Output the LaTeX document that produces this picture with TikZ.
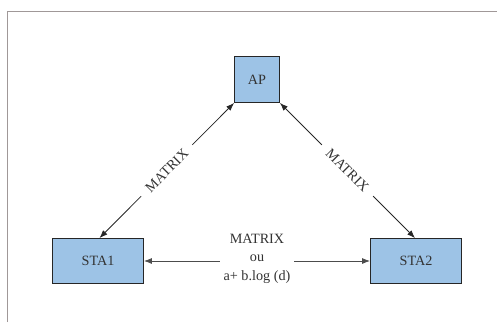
\documentclass[tikz,border=0pt]{standalone}
\usepackage{fontspec}
\setmainfont{Liberation Serif}
\usetikzlibrary{arrows.meta}
\definecolor{boxblue}{HTML}{9DC3E6}
\definecolor{txtgray}{HTML}{333333}
\definecolor{framegray}{HTML}{A09898}
\begin{document}
\begin{tikzpicture}[x=1pt,y=-1pt,
  font=\fontsize{14.2}{18.5}\selectfont,
  box/.style={draw=black!85,line width=0.9pt,fill=boxblue,text=txtgray,inner sep=0pt},
  link/.style={line width=0.8pt,draw=black!85,{Latex[length=8pt,width=6pt]}-{Latex[length=8pt,width=6pt]}},
  lbl/.style={fill=white,text=txtgray,inner xsep=9pt,inner ysep=1pt,sloped}]
\useasboundingbox (0,0) rectangle (497,322);
\draw[framegray,line width=1pt] (7.5,322) -- (7.5,11.5) -- (497,11.5);
\node[box,minimum width=45pt,minimum height=46pt] (AP) at (257,79.5) {AP};
\node[box,minimum width=91pt,minimum height=45pt] (STA1) at (98,261) {STA1};
\node[box,minimum width=91pt,minimum height=45pt] (STA2) at (416,261) {STA2};
\draw[link] (AP.south west) -- node[lbl] {MATRIX} ([xshift=1.5pt]STA1.north);
\draw[link] (AP.south east) -- node[lbl] {MATRIX} ([xshift=-1pt]STA2.north);
\draw[link,draw=black!70] (STA1.east) -- node[fill=white,text=txtgray,align=center,inner xsep=4pt,inner ysep=0pt,yshift=2.5pt] {MATRIX\\ou\\a+ b.log (d)} (STA2.west);
\end{tikzpicture}
\end{document}
